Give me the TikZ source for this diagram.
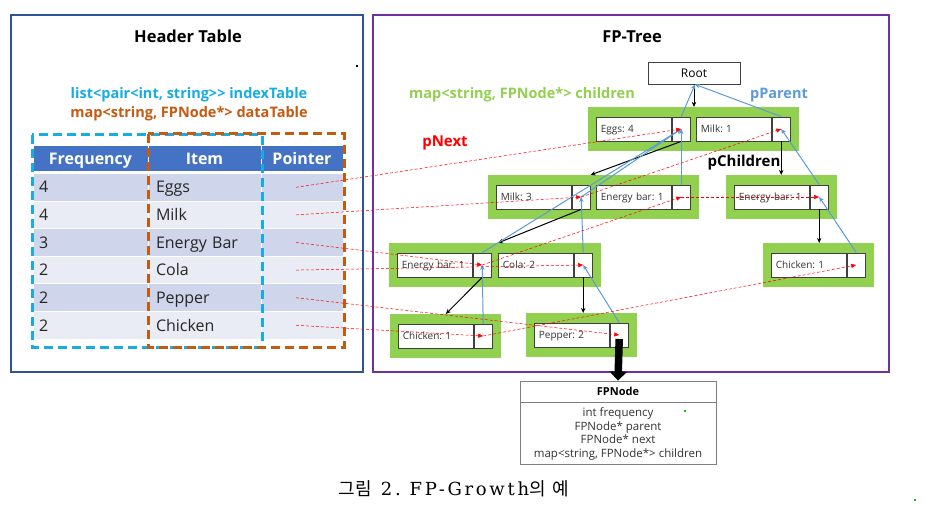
\documentclass[tikz,border=0pt]{standalone}
\usepackage{fontspec}
\setmainfont{Open Sans}
\newfontfamily\cjk{Noto Sans CJK KR}
\newfontfamily\capfont[LetterSpace=15]{DejaVu Serif}
\usepackage{tikz}
\usetikzlibrary{arrows.meta, positioning, fit, backgrounds, calc}
\frenchspacing

\definecolor{panelblue}{HTML}{2F5597}
\definecolor{panelpurple}{HTML}{7030A0}
\definecolor{hdrblue}{HTML}{4472C4}
\definecolor{rowdark}{HTML}{CFD5EA}
\definecolor{rowlight}{HTML}{E9EBF5}
\definecolor{idxcyan}{HTML}{17ACE3}
\definecolor{dataorange}{HTML}{C55A11}
\definecolor{fpgreen}{HTML}{92D050}
\definecolor{ptrblue}{HTML}{5B9BD5}
\definecolor{boxgray}{HTML}{7F7F7F}

\begin{document}
\begin{tikzpicture}[x=1pt, y=-1pt,
		cellbox/.style={draw=black!75, fill=white, line width=0.8pt, text width=66pt, inner xsep=4.5pt, minimum height=24pt, text height=7.2pt, text depth=0pt, align=left, font=\fontsize{10}{11}\selectfont, text=black!80, anchor=west},
		ptrbox/.style={draw=black!75, fill=white, line width=0.8pt, minimum width=18pt, minimum height=24pt, inner sep=0pt, anchor=west},
		grp/.style={fill=fpgreen, inner xsep=8pt, inner ysep=9.5pt},
		child/.style={-{Stealth[length=5pt, width=4.5pt]}, line width=1pt, black},
		parent/.style={-{Stealth[length=5pt, width=4.5pt]}, line width=1pt, ptrblue},
		nextptr/.style={-{Triangle[length=5pt, width=4pt]}, densely dashed, line width=0.5pt, red},
		hcell/.style={fill=hdrblue, draw=white, line width=1pt, minimum height=26pt, text height=11.4pt, text depth=0pt, text=white, font=\bfseries\fontsize{16}{18}\selectfont},
		tcell/.style={draw=white, line width=1pt, minimum height=27.6pt, text height=11.4pt, text depth=0pt, align=left, font=\fontsize{16}{18}\selectfont, text=black!85},
		fpbox/.style={draw=boxgray, line width=0.8pt, fill=white, minimum width=196pt, inner sep=0pt},
		lbl/.style={font=\bfseries\fontsize{14.5}{16}\selectfont}]
	\useasboundingbox (0,0) rectangle (928,505);
	\begin{scope}[on background layer]
		\fill[white] (0,0) rectangle (928,505);
	\end{scope}

	% panels
	\draw[panelblue, line width=2pt] (11,15) rectangle (363,372);
	\draw[panelpurple, line width=2.5pt] (373,15) rectangle (889,372);
	\node[font=\bfseries\fontsize{16.5}{18}\selectfont] (httitle) at (188,36) {Header Table};
	\node[font=\bfseries\fontsize{16.5}{18}\selectfont] (fttitle) at (632,37) {FP-Tree};
	\fill (356,65) rectangle (358,67);

	% header table
	\node[lbl, text=idxcyan] (idxlbl) at (189,95) {list<pair<int, string>{}> indexTable};
	\node[lbl, text=dataorange] (datalbl) at (189,114) {map<string, FPNode*> dataTable};
	\node[hcell, minimum width=115pt] (hfreq) at (90.5,159) {Frequency};
	\node[hcell, minimum width=113pt] (hitem) at (204.5,159) {Item};
	\node[hcell, minimum width=82pt] (hptr) at (302,159) {Pointer};
	\foreach \fr/\it [count=\i] in {4/Eggs, 4/Milk, 3/Energy Bar, 2/Cola, 2/Pepper, 2/Chicken}{
		\pgfmathsetmacro{\ry}{187.3+(\i-1)*27.6}
		\ifodd\i \def\rc{rowdark}\else\def\rc{rowlight}\fi
		\node[tcell, fill=\rc, text width=103pt, inner xsep=6pt] (f\i) at (90.5,\ry) {\fr};
		\node[tcell, fill=\rc, text width=97pt, inner xsep=8pt] (t\i) at (204.5,\ry) {\it};
		\node[tcell, fill=\rc, minimum width=82pt, inner sep=0pt] (p\i) at (302,\ry) {};
	}
	\draw[idxcyan, line width=3pt, dash pattern=on 9pt off 5pt] (32,135) rectangle (262,347);
	\draw[dataorange, line width=3pt, dash pattern=on 9pt off 5pt] (148,134) rectangle (344,347);

	% FP-tree
	\node[draw=black!75, fill=white, line width=0.8pt, minimum width=92pt, minimum height=22pt, font=\fontsize{12}{14}\selectfont] (root) at (694,73) {Root};
	\node[cellbox] (eggs) at (596,129) {Eggs: 4};
	\node[ptrbox] (eggsp) at (eggs.east) {};
	\node[cellbox] (milk1) at (696,129) {Milk: 1};
	\node[ptrbox] (milk1p) at (milk1.east) {};
	\node[cellbox] (milk3) at (496,197) {Milk: 3};
	\node[ptrbox] (milk3p) at (milk3.east) {};
	\node[cellbox] (ebar2) at (596,197) {Energy bar: 1};
	\node[ptrbox] (ebar2p) at (ebar2.east) {};
	\node[cellbox] (ebarr) at (734,197) {Energy bar: 1};
	\node[ptrbox] (ebarrp) at (ebarr.east) {};
	\node[cellbox] (ebar3) at (397,265) {Energy bar: 1};
	\node[ptrbox] (ebar3p) at (ebar3.east) {};
	\node[cellbox] (cola) at (498,265) {Cola: 2};
	\node[ptrbox] (colap) at (cola.east) {};
	\node[cellbox] (chickr) at (771,265) {Chicken: 1};
	\node[ptrbox] (chickrp) at (chickr.east) {};
	\node[cellbox] (chick4) at (398,336) {Chicken: 1};
	\node[ptrbox] (chick4p) at (chick4.east) {};
	\node[cellbox] (pepper) at (534,335) {Pepper: 2};
	\node[ptrbox] (pepperp) at (pepper.east) {};
	\begin{scope}[on background layer]
		\node[grp, fit=(eggs)(milk1p)] (g1) {};
		\node[grp, fit=(milk3)(ebar2p)] (g2a) {};
		\node[grp, fit=(ebarr)(ebarrp)] (g2b) {};
		\node[grp, fit=(ebar3)(colap)] (g3a) {};
		\node[grp, fit=(chickr)(chickrp)] (g3b) {};
		\node[grp, fit=(chick4)(chick4p)] (g4a) {};
		\node[grp, fit=(pepper)(pepperp)] (g4b) {};
	\end{scope}

	\node[lbl, text=fpgreen] (childlbl) at (522,95) {map<string, FPNode*> children};
	\node[lbl, text=ptrblue] (parentlbl) at (779,95) {pParent};
	\node[lbl, text=red, font=\bfseries\fontsize{15}{16}\selectfont] (nextlbl) at (445,143) {pNext};
	\node[lbl, font=\bfseries\fontsize{15}{16}\selectfont] (childrenlbl) at (744,163) {pChildren};

	% children
	\draw[child] (root.south) -- (root.south |- g1.north);
	\draw[child] (eggsp.south) -- (milk3p.north east |- g2a.north);
	\draw[child] (milk1p.south) -- (milk1p.south |- g2b.north);
	\draw[child] (milk3p.south) -- (cola.north west |- g3a.north);
	\draw[child] (ebarrp.south) -- (ebarrp.south |- g3b.north);
	\draw[child] (ebar3p.south) -- ([xshift=10pt]chick4.north |- g4a.north);
	\draw[child] (colap.south) -- (colap.south |- g4b.north);

	% parents
	\draw[parent] (eggsp.north) -- ([xshift=1pt]root.south);
	\draw[parent] (milk1p.north) -- ([xshift=1pt]root.south);
	\draw[parent] (milk3p.center) -- (eggsp.center);
	\draw[parent] (ebar2p.north) -- (eggsp.center);
	\draw[parent] (ebar3p.north) -- (eggsp.center);
	\draw[parent] (colap.north) -- (milk3p.center);
	\draw[parent] (ebarrp.north) -- (milk1p.center);
	\draw[parent] (chickrp.north) -- (ebarrp.center);
	\draw[parent] (chick4p.north) -- (ebar3p.center);
	\draw[parent] (pepperp.north) -- (colap.center);

	% next
	\draw[nextptr] ([xshift=-6pt]p1.center) -- (eggsp.center);
	\draw[nextptr] ([xshift=-6pt]p2.center) -- (milk3p.center);
	\draw[nextptr] (milk3p.center) -- (milk1p.center);
	\draw[nextptr] ([xshift=-6pt]p3.center) -- (ebar3p.center);
	\draw[nextptr] (ebar3p.center) -- (ebar2p.center);
	\draw[nextptr] (ebar2p.center) -- (ebarrp.center);
	\draw[nextptr] ([xshift=-6pt]p4.center) -- (colap.center);
	\draw[nextptr] ([xshift=-6pt]p5.center) -- (pepperp.center);
	\draw[nextptr] ([xshift=-6pt]p6.center) -- (chick4p.center);
	\draw[nextptr] (chick4p.center) -- (chickrp.center);

	% FPNode
	\node[fpbox, minimum height=21pt, font=\bfseries\fontsize{11}{12}\selectfont] (fpn) at (618,391.5) {FPNode};
	\node[fpbox, minimum height=62pt, below=0pt of fpn, align=center, font=\fontsize{11.5}{13.5}\selectfont, text=black!80] (fpnbody) {int frequency\\FPNode* parent\\FPNode* next\\map<string, FPNode*> children};
	\draw[-{Triangle[length=9pt, width=17pt]}, line width=7.5pt] ([yshift=-4pt]pepperp.center) -- (fpn.north);
	\fill[green!80!black] (684,410) rectangle (686,412);
	\fill[green!80!black] (914,499) rectangle (916,501);

	\node[font=\fontsize{18}{20}\selectfont] (caption) at (454,489) {{\cjk 그림}\hspace{9pt}{\capfont\fontsize{18}{20}\selectfont 2.\hspace{9pt}FP-Growth}{\cjk 의\hspace{7pt}예}};
\end{tikzpicture}
\end{document}
